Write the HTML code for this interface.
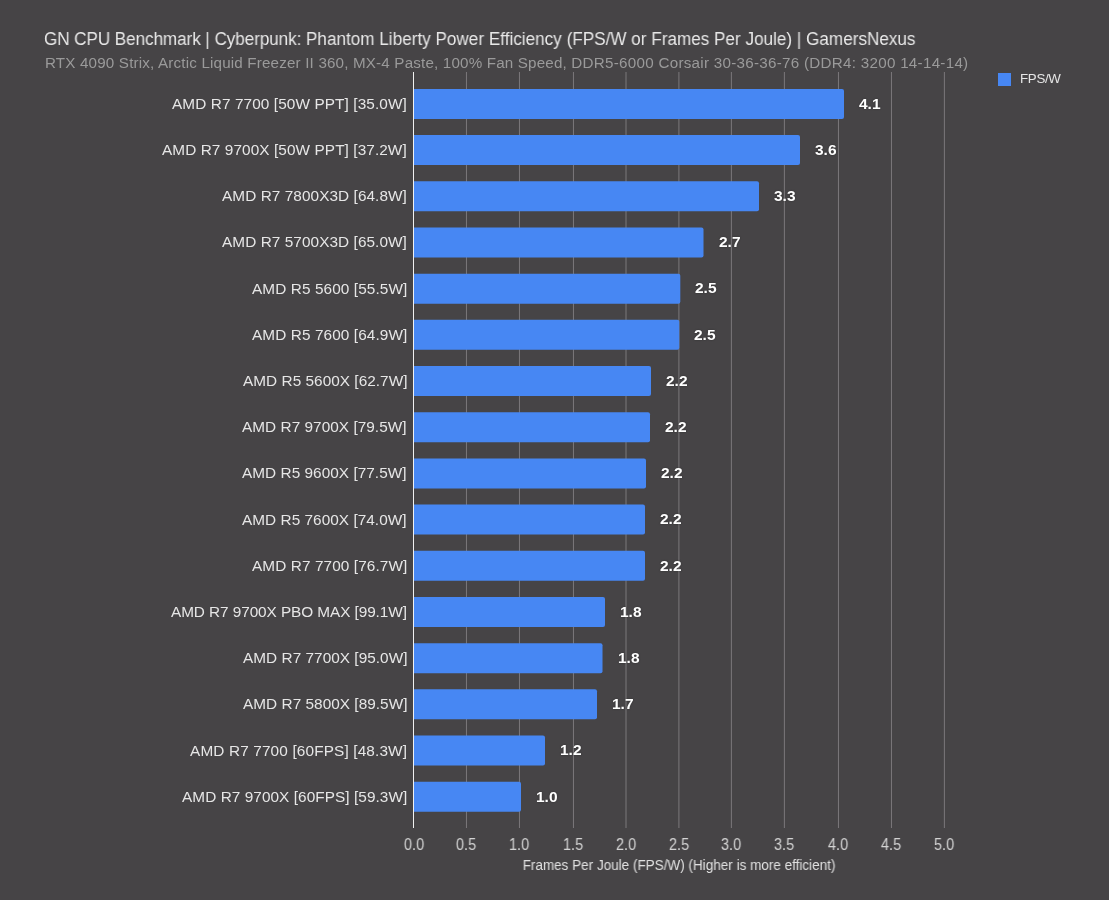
<!DOCTYPE html>
<html><head><meta charset="utf-8"><style>
html,body{margin:0;padding:0;}
.t,.st,.lb,.v,.tk,.xt,.lgt{will-change:transform;}
body{width:1109px;height:900px;background:#464446;position:relative;overflow:hidden;font-family:"Liberation Sans",sans-serif;}
.t{position:absolute;left:44px;top:28.5px;font-size:18px;color:#e8e8e8;white-space:pre;line-height:20px;transform:scaleX(0.949);transform-origin:0 0;}
.st{position:absolute;left:45px;top:53.5px;font-size:15.2px;letter-spacing:0.21px;color:#9a9a9a;white-space:pre;line-height:18px;}
.g{position:absolute;top:72px;height:756px;width:1px;background:#7b787b;}
.ax{position:absolute;top:72px;height:756px;width:1px;background:#f0f0f0;}
.b{position:absolute;left:413.50px;height:30px;background:#4787f3;border-radius:0 2px 2px 0;}
.lb{position:absolute;right:702px;font-size:15.35px;color:#e6e6e6;white-space:pre;line-height:32px;text-align:right;}
.v{position:absolute;font-size:15.5px;font-weight:bold;color:#ffffff;white-space:pre;line-height:32px;text-shadow:0 0 2px rgba(0,0,0,0.35);}
.tk{position:absolute;top:834.7px;width:60px;text-align:center;font-size:16px;color:#d4d4d4;line-height:20px;transform:scaleX(0.92);}
.xt{position:absolute;left:0;width:1358px;top:856px;text-align:center;font-size:14px;transform:scaleX(0.965);color:#e0e0e0;line-height:18px;}
.lg{position:absolute;left:998px;top:73px;width:13px;height:13px;background:#4787f3;}
.lgt{position:absolute;left:1020px;top:70px;font-size:13.3px;letter-spacing:-0.3px;color:#e6e6e6;line-height:18px;}
</style></head><body>
<div class="t"><span style="letter-spacing:-0.056px">GN CPU Benchmark | Cyberpunk: </span><span style="letter-spacing:0.023px">Phantom Liberty Power Efficiency (FPS/W or Frames Per Joule) | GamersNexus</span></div>
<div class="st"><span style="letter-spacing:0.169px">RTX 4090 Strix, Arctic Liquid Freezer II 360, MX-4 Paste, 100% Fan Speed, </span><span style="letter-spacing:0.272px">DDR5-6000 Corsair 30-36-36-76 (DDR4: 3200 14-14-14)</span></div>
<svg width="1109" height="900" style="position:absolute;left:0;top:0"><rect x="465.96" y="72" width="1" height="756" fill="#7b787b"/><rect x="518.96" y="72" width="1" height="756" fill="#7b787b"/><rect x="572.96" y="72" width="1" height="756" fill="#7b787b"/><rect x="625.50" y="72" width="1" height="756" fill="#7b787b"/><rect x="678.40" y="72" width="1" height="756" fill="#7b787b"/><rect x="730.88" y="72" width="1" height="756" fill="#7b787b"/><rect x="783.88" y="72" width="1" height="756" fill="#7b787b"/><rect x="837.96" y="72" width="1" height="756" fill="#7b787b"/><rect x="890.96" y="72" width="1" height="756" fill="#7b787b"/><rect x="943.88" y="72" width="1" height="756" fill="#7b787b"/><path d="M413.50 88.90H842.00a2 2 0 0 1 2 2V116.90a2 2 0 0 1 -2 2H413.50Z" fill="#4787f3"/><path d="M413.50 135.09H798.00a2 2 0 0 1 2 2V163.09a2 2 0 0 1 -2 2H413.50Z" fill="#4787f3"/><path d="M413.50 181.28H757.00a2 2 0 0 1 2 2V209.28a2 2 0 0 1 -2 2H413.50Z" fill="#4787f3"/><path d="M413.50 227.47H701.50a2 2 0 0 1 2 2V255.47a2 2 0 0 1 -2 2H413.50Z" fill="#4787f3"/><path d="M413.50 273.66H678.30a2 2 0 0 1 2 2V301.66a2 2 0 0 1 -2 2H413.50Z" fill="#4787f3"/><path d="M413.50 319.85H677.30a2 2 0 0 1 2 2V347.85a2 2 0 0 1 -2 2H413.50Z" fill="#4787f3"/><path d="M413.50 366.04H649.00a2 2 0 0 1 2 2V394.04a2 2 0 0 1 -2 2H413.50Z" fill="#4787f3"/><path d="M413.50 412.23H648.00a2 2 0 0 1 2 2V440.23a2 2 0 0 1 -2 2H413.50Z" fill="#4787f3"/><path d="M413.50 458.42H644.00a2 2 0 0 1 2 2V486.42a2 2 0 0 1 -2 2H413.50Z" fill="#4787f3"/><path d="M413.50 504.61H643.00a2 2 0 0 1 2 2V532.61a2 2 0 0 1 -2 2H413.50Z" fill="#4787f3"/><path d="M413.50 550.80H643.00a2 2 0 0 1 2 2V578.80a2 2 0 0 1 -2 2H413.50Z" fill="#4787f3"/><path d="M413.50 596.99H603.00a2 2 0 0 1 2 2V624.99a2 2 0 0 1 -2 2H413.50Z" fill="#4787f3"/><path d="M413.50 643.18H600.50a2 2 0 0 1 2 2V671.18a2 2 0 0 1 -2 2H413.50Z" fill="#4787f3"/><path d="M413.50 689.37H595.00a2 2 0 0 1 2 2V717.37a2 2 0 0 1 -2 2H413.50Z" fill="#4787f3"/><path d="M413.50 735.56H543.00a2 2 0 0 1 2 2V763.56a2 2 0 0 1 -2 2H413.50Z" fill="#4787f3"/><path d="M413.50 781.75H519.00a2 2 0 0 1 2 2V809.75a2 2 0 0 1 -2 2H413.50Z" fill="#4787f3"/><rect x="413.00" y="72" width="1" height="756" fill="#f0f0f0"/></svg><div class="tk" style="left:436.46px">0.5</div><div class="tk" style="left:489.46px">1.0</div><div class="tk" style="left:543.46px">1.5</div><div class="tk" style="left:596.00px">2.0</div><div class="tk" style="left:648.90px">2.5</div><div class="tk" style="left:701.38px">3.0</div><div class="tk" style="left:754.38px">3.5</div><div class="tk" style="left:808.46px">4.0</div><div class="tk" style="left:861.46px">4.5</div><div class="tk" style="left:914.38px">5.0</div><div class="tk" style="left:383.50px">0.0</div><div class="lb" style="top:87.90px;letter-spacing:0.100px;right:701.90px">AMD R7 7700 [50W PPT] [35.0W]</div><div class="v" style="top:87.70px;left:859px">4.1</div><div class="lb" style="top:134.09px;letter-spacing:0.086px;right:701.91px">AMD R7 9700X [50W PPT] [37.2W]</div><div class="v" style="top:133.89px;left:815px">3.6</div><div class="lb" style="top:180.28px;letter-spacing:0.071px;right:701.93px">AMD R7 7800X3D [64.8W]</div><div class="v" style="top:180.08px;left:774px">3.3</div><div class="lb" style="top:226.47px;letter-spacing:0.071px;right:701.93px">AMD R7 5700X3D [65.0W]</div><div class="v" style="top:226.27px;left:718.5px">2.7</div><div class="lb" style="top:272.66px;letter-spacing:0.100px;right:701.90px">AMD R5 5600 [55.5W]</div><div class="v" style="top:272.46px;left:695.3px">2.5</div><div class="lb" style="top:318.85px;letter-spacing:0.100px;right:701.90px">AMD R5 7600 [64.9W]</div><div class="v" style="top:318.65px;left:694.3px">2.5</div><div class="lb" style="top:365.04px;letter-spacing:0.037px;right:701.96px">AMD R5 5600X [62.7W]</div><div class="v" style="top:364.84px;left:666px">2.2</div><div class="lb" style="top:411.23px;letter-spacing:0.042px;right:701.96px">AMD R7 9700X [79.5W]</div><div class="v" style="top:411.03px;left:665px">2.2</div><div class="lb" style="top:457.42px;letter-spacing:0.042px;right:701.96px">AMD R5 9600X [77.5W]</div><div class="v" style="top:457.22px;left:661px">2.2</div><div class="lb" style="top:503.61px;letter-spacing:0.042px;right:701.96px">AMD R5 7600X [74.0W]</div><div class="v" style="top:503.41px;left:660px">2.2</div><div class="lb" style="top:549.80px;letter-spacing:0.100px;right:701.90px">AMD R7 7700 [76.7W]</div><div class="v" style="top:549.60px;left:660px">2.2</div><div class="lb" style="top:595.99px;letter-spacing:-0.074px;right:702.07px">AMD R7 9700X PBO MAX [99.1W]</div><div class="v" style="top:595.79px;left:620px">1.8</div><div class="lb" style="top:642.18px;letter-spacing:0.037px;right:701.96px">AMD R7 7700X [95.0W]</div><div class="v" style="top:641.98px;left:617.5px">1.8</div><div class="lb" style="top:688.37px;letter-spacing:0.037px;right:701.96px">AMD R7 5800X [89.5W]</div><div class="v" style="top:688.17px;left:612px">1.7</div><div class="lb" style="top:734.56px;letter-spacing:0.146px;right:701.85px">AMD R7 7700 [60FPS] [48.3W]</div><div class="v" style="top:734.36px;left:560px">1.2</div><div class="lb" style="top:780.75px;letter-spacing:0.067px;right:701.93px">AMD R7 9700X [60FPS] [59.3W]</div><div class="v" style="top:780.55px;left:536px">1.0</div>
<div class="xt">Frames Per Joule (FPS/W) (Higher is more efficient)</div>
<div class="lg"></div><div class="lgt">FPS/W</div>
</body></html>
